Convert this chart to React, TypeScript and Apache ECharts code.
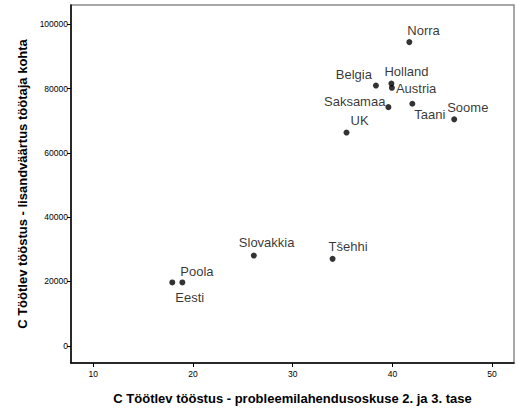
import React, { useEffect, useRef } from "react";
import * as echarts from "echarts";

const countries = ["Norra", "Belgia", "Holland", "Austria", "Saksamaa", "Taani", "Soome", "UK", "Slovakkia", "Tšehhi", "Poola", "Eesti"];
const xValues = [41.7, 38.35, 39.9, 39.95, 39.6, 42.0, 46.2, 35.4, 26.1, 34.0, 18.93, 17.92];
const yValues = [94430, 80920, 81540, 80210, 74210, 75260, 70410, 66300, 28050, 27030, 19700, 19700];
const xTicks = [10, 20, 30, 40, 50];
const yTicks = [0, 20000, 40000, 60000, 80000, 100000];

// label placement (style only): [align, dx, dy]
const labelPlacement: [string, number, number][] = [
  ["left", -2, -12],
  ["right", -4, -11],
  ["left", -7, -12],
  ["left", 4, 1],
  ["right", -3, -6],
  ["left", 2, 11],
  ["left", -7, -12],
  ["left", 4, -12],
  ["left", -15, -13],
  ["left", -4, -12],
  ["left", -2, -11],
  ["left", 3, 15],
];

const FONT = 'Arial, "Liberation Sans", Helvetica, sans-serif';

export default function App() {
  const ref = useRef<HTMLDivElement>(null);
  useEffect(() => {
    if (!ref.current) return;
    const chart = echarts.init(ref.current, undefined, { renderer: "svg" });
    const data = countries.map((c, i) => ({
      name: c,
      value: [xValues[i], yValues[i]],
      label: {
        show: true,
        formatter: c,
        position: "inside",
        align: labelPlacement[i][0],
        verticalAlign: "middle",
        offset: [labelPlacement[i][1], labelPlacement[i][2]],
      },
    }));
    chart.setOption({
      animation: false,
      backgroundColor: "#fff",
      grid: {
        left: 71,
        right: 3,
        top: 5,
        bottom: 45,
        show: true,
        borderColor: "#8a8a8a",
        borderWidth: 1.5,
      },
      xAxis: {
        type: "value",
        min: 7.76,
        max: 52.2,
        name: "C Töötlev tööstus - probleemilahendusoskuse 2. ja 3. tase",
        nameLocation: "middle",
        nameGap: 29,
        nameTextStyle: { fontFamily: FONT, fontSize: 13, fontWeight: "bold", color: "#000" },
        axisLine: { show: true, onZero: false, lineStyle: { color: "#000", width: 1.5 } },
        axisTick: { show: true, length: 4, customValues: xTicks, lineStyle: { color: "#000" } },
        axisLabel: { customValues: xTicks, formatter: (v: number) => String(v), fontFamily: FONT, fontSize: 8.5, color: "#000", margin: 6 },
        splitLine: { show: false },
      },
      yAxis: {
        type: "value",
        min: -5350,
        max: 105970,
        name: "C Töötlev tööstus - lisandväärtus töötaja kohta",
        nameLocation: "middle",
        nameGap: 40.5,
        nameTextStyle: { fontFamily: FONT, fontSize: 13, fontWeight: "bold", color: "#000" },
        axisLine: { show: true, onZero: false, lineStyle: { color: "#000", width: 1.5 } },
        axisTick: { show: true, length: 4, customValues: yTicks, lineStyle: { color: "#000" } },
        axisLabel: { customValues: yTicks, formatter: (v: number) => String(v), fontFamily: FONT, fontSize: 8.5, color: "#000", margin: 3 },
        splitLine: { show: false },
      },
      series: [
        {
          type: "scatter",
          symbol: "circle",
          symbolSize: 6,
          itemStyle: { color: "#000" },
          label: { fontFamily: FONT, fontSize: 13, color: "#000" },
          data,
        },
      ],
    });
    return () => chart.dispose();
  }, []);
  return <div ref={ref} style={{ width: 517, height: 410, position: "absolute", left: 0, top: 0 }} />;
}
